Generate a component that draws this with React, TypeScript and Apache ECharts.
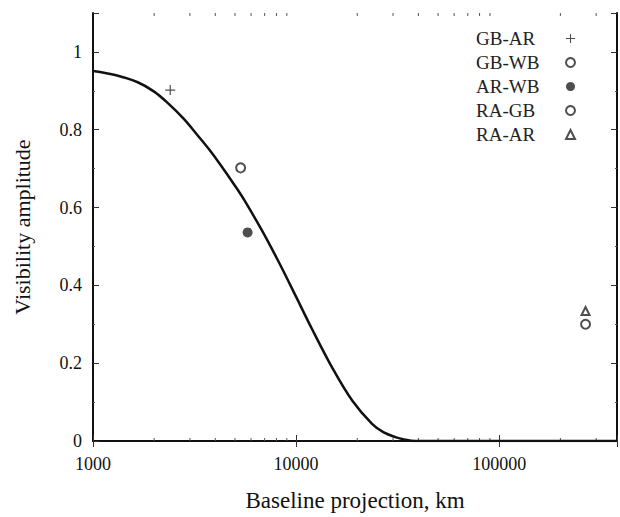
import React, { useEffect, useRef } from 'react';
import * as echarts from 'echarts';

const xMin = 1000;
const xMax = 380000;
const yMin = 0;
const yMax = 1.1;

const curveX = [1000, 1300, 1660, 2000, 2330, 2800, 3270, 3750, 4240, 4970, 5560, 6840, 8250, 9990, 11940, 15070, 18880, 23650, 27000, 30800, 34000, 38600, 60000, 100000, 200000, 380000];
const curveY = [0.951, 0.94, 0.922, 0.898, 0.869, 0.828, 0.786, 0.748, 0.71, 0.658, 0.619, 0.538, 0.458, 0.371, 0.289, 0.188, 0.104, 0.044, 0.022, 0.01, 0.004, 0.0, 0, 0, 0, 0];

const seriesNames = ['GB-AR', 'GB-WB', 'AR-WB', 'RA-GB', 'RA-AR'];
const pointX = [2400, 5330, 5770, 266000, 266000];
const pointY = [0.902, 0.702, 0.536, 0.3, 0.334];

const minorTickX = [2000, 3000, 4000, 5000, 6000, 7000, 8000, 9000, 20000, 30000, 40000, 50000, 60000, 70000, 80000, 90000, 200000, 300000];

const FONT = 'Liberation Serif';
const PLUS = 'path://M4.4,0H5.6V4.4H10V5.6H5.6V10H4.4V5.6H0V4.4H4.4Z';

export default function App() {
  const ref = useRef<HTMLDivElement>(null);
  useEffect(() => {
    if (!ref.current) return;
    const chart = echarts.init(ref.current, null, { renderer: 'svg' });
    const ink = '#222';
    const symbols = [PLUS, 'emptyCircle', 'circle', 'emptyCircle', 'emptyTriangle'];
    const sizes = [10, 9, 10, 9, 8];
    const scatters = seriesNames.map((name, i) => ({
      type: 'scatter',
      name,
      data: [[pointX[i], pointY[i]]],
      symbol: symbols[i],
      symbolSize: sizes[i],
      itemStyle: symbols[i].startsWith('empty')
        ? { color: ink, borderColor: ink, borderWidth: 1.4 }
        : { color: ink, borderWidth: 0 },
      z: 5,
    }));
    const axisLineStyle = { color: '#111', width: 2 };
    chart.setOption({
      animation: false,
      backgroundColor: '#fff',
      grid: { left: 93, right: 2, top: 13, bottom: 73, containLabel: false },
      legend: {
        data: seriesNames,
        orient: 'vertical',
        left: 471,
        top: 24,
        align: 'right',
        itemWidth: 9,
        itemHeight: 9,
        itemGap: 5,
        formatter: '{t|{name}}',
        textStyle: {
          fontFamily: FONT,
          fontSize: 19,
          color: '#222',
          lineHeight: 18,
          rich: { t: { width: 85, align: 'left', fontFamily: FONT, fontSize: 19, color: '#222', lineHeight: 18 } },
        },
        selectedMode: false,
      },
      xAxis: [
        {
          type: 'log',
          logBase: 10,
          min: xMin,
          max: xMax,
          position: 'bottom',
          name: 'Baseline projection, km',
          nameLocation: 'middle',
          nameGap: 48,
          nameTextStyle: { fontFamily: FONT, fontSize: 23, color: '#111' },
          axisLine: { show: true, lineStyle: axisLineStyle },
          axisTick: { show: true, inside: true, length: 6, lineStyle: { color: '#333' } },
          axisLabel: {
            fontFamily: FONT,
            fontSize: 18,
            color: '#111',
            margin: 14,
            formatter: (v: number) => {
              const l = Math.log10(v);
              return Math.abs(l - Math.round(l)) < 1e-6 ? String(Math.round(v)) : '';
            },
          },
          splitLine: { show: false },
        },
        {
          type: 'log',
          logBase: 10,
          min: xMin,
          max: xMax,
          position: 'top',
          axisLine: { show: true, lineStyle: axisLineStyle },
          axisTick: { show: true, inside: true, length: 6, lineStyle: { color: '#333' } },
          axisLabel: { show: false },
          splitLine: { show: false },
        },
      ],
      yAxis: [
        {
          type: 'value',
          min: yMin,
          max: yMax,
          interval: 0.2,
          position: 'left',
          name: 'Visibility amplitude',
          nameLocation: 'middle',
          nameGap: 60,
          nameTextStyle: { fontFamily: FONT, fontSize: 22, color: '#111' },
          axisLine: { show: true, lineStyle: axisLineStyle },
          axisTick: { show: true, inside: true, length: 6, lineStyle: { color: '#333' } },
          minorTick: { show: true, splitNumber: 2, length: 2, lineStyle: { color: '#555' } },
          axisLabel: {
            fontFamily: FONT,
            fontSize: 18,
            color: '#111',
            margin: 11,
            formatter: (v: number) => (v > 1.05 ? '' : v === 0 ? '0' : Math.abs(v - 1) < 1e-9 ? '1' : v.toFixed(1)),
          },
          splitLine: { show: false },
        },
        {
          type: 'value',
          min: yMin,
          max: yMax,
          interval: 0.2,
          position: 'right',
          axisLine: { show: true, lineStyle: axisLineStyle },
          axisTick: { show: true, inside: true, length: 6, lineStyle: { color: '#333' } },
          minorTick: { show: true, splitNumber: 2, length: 2, lineStyle: { color: '#555' } },
          axisLabel: { show: false },
          splitLine: { show: false },
        },
      ],
      series: [
        {
          type: 'custom',
          name: 'minorTicks',
          xAxisIndex: 0,
          yAxisIndex: 0,
          silent: true,
          clip: false,
          data: minorTickX.map((v) => [v, 0]),
          encode: { x: 0, y: 1 },
          renderItem: (_p: any, api: any) => {
            const v = api.value(0);
            const b = api.coord([v, yMin]);
            const t = api.coord([v, yMax]);
            const st = { stroke: '#555', lineWidth: 1 };
            return {
              type: 'group',
              children: [
                { type: 'line', shape: { x1: b[0], y1: b[1], x2: b[0], y2: b[1] - 3 }, style: st },
                { type: 'line', shape: { x1: t[0], y1: t[1], x2: t[0], y2: t[1] + 3 }, style: st },
              ],
            };
          },
          z: 1,
        },
        {
          type: 'line',
          name: 'model',
          data: curveX.map((x, i) => [x, curveY[i]]),
          showSymbol: false,
          smooth: 0.35,
          lineStyle: { color: '#111', width: 2.5 },
          z: 3,
        },
        ...scatters,
      ],
    });
    return () => chart.dispose();
  }, []);
  return <div ref={ref} style={{ width: 620, height: 517, position: 'absolute', left: 0, top: 0 }} />;
}
